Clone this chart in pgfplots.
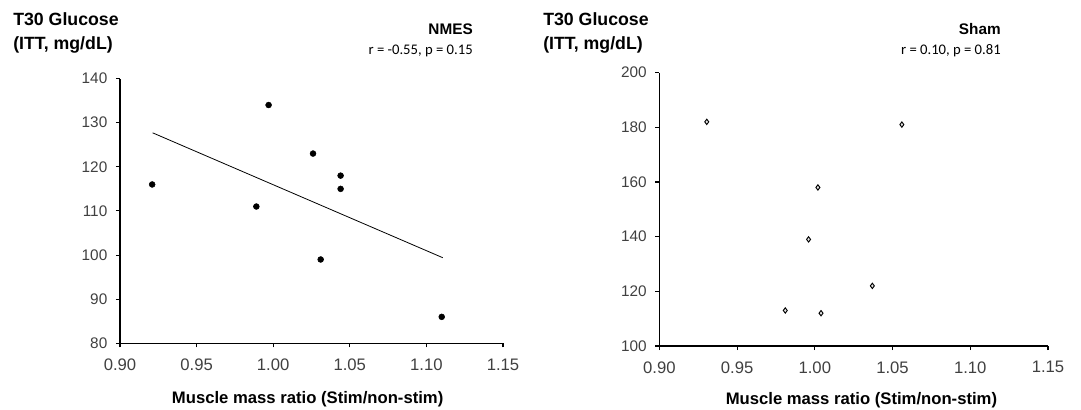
\documentclass[border=0pt]{standalone}
\usepackage{fontspec}
\setmainfont{Liberation Sans}
\newfontfamily\calib{Carlito}
\usepackage{pgfplots}
\pgfplotsset{compat=1.18}

\definecolor{ticktxt}{RGB}{64,64,64}

\pgfplotsset{
  glu/.style={
    scale only axis,
    anchor=origin,
    axis lines*=left,
    axis line style={black, line width=0.8pt},
    tick align=outside,
    tick pos=left,
    major tick length=3pt,
    every tick/.style={black, line width=0.8pt},
    xmin=0.9, xmax=1.15,
    xtick={0.9,0.95,...,1.15},
    /pgf/number format/assume math mode=true,
    xticklabel style={/pgf/number format/fixed, /pgf/number format/fixed zerofill,
      /pgf/number format/precision=2,
      font=\fontsize{12.5}{14}\selectfont, text=ticktxt, yshift=-5pt},
    yticklabel style={font=\fontsize{11.5}{13}\selectfont, text=ticktxt, xshift=-3pt},
    xlabel={\textbf{Muscle mass ratio (Stim/non-stim)}},
    xlabel style={font=\fontsize{12.5}{14}\selectfont, anchor=center},
    clip=false,
  }
}

\begin{document}
\begin{tikzpicture}[x=0.75pt, y=-0.75pt]
\path[use as bounding box] (0,0) rectangle (1081,410);

% NMES panel
\begin{axis}[glu,
  at={(90pt,-257.5pt)},
  width=287.25pt, height=198.6pt,
  ymin=80, ymax=140, ytick={80,90,...,140},
  xlabel style={at={(rel axis cs:0.49,0)}, yshift=-42pt}]
  \addplot[black, line width=0.6pt] coordinates {(0.9213,127.7) (1.1107,99.4)};
  \addplot[only marks, mark=*, mark size=2.2pt, black] coordinates {
    (0.921,116) (0.997,134) (0.989,111) (1.026,123)
    (1.044,118) (1.044,115) (1.031,99) (1.110,86)
  };
\end{axis}

% Sham panel
\begin{axis}[glu,
  at={(494.5pt,-259.5pt)},
  width=291.5pt, height=205pt,
  ymin=100, ymax=200, ytick={100,120,...,200},
  xlabel style={at={(rel axis cs:0.52,0)}, yshift=-40.5pt}]
  \addplot[only marks, mark=diamond*, mark size=2pt,
    mark options={draw=black, fill=gray!20, line width=0.7pt}] coordinates {
    (0.9305,182) (1.056,181) (1.002,158) (0.996,139)
    (1.037,122) (0.981,113) (1.004,112)
  };
\end{axis}

% titles
\node[anchor=north west, align=left, inner sep=0pt, font=\bfseries\fontsize{13.3}{18}\selectfont]
  at (13,12) {T30 Glucose\\(ITT, mg/dL)};
\node[anchor=north west, align=left, inner sep=0pt, font=\bfseries\fontsize{13.3}{18}\selectfont]
  at (543,12) {T30 Glucose\\(ITT, mg/dL)};

\node[anchor=east, inner sep=0pt, font=\bfseries\fontsize{11.5}{13}\selectfont] at (473,29) {NMES};
\node[anchor=east, inner sep=0pt, font=\calib\fontsize{11}{13}\selectfont] at (473,51) {r = -0.55, p = 0.15};
\node[anchor=east, inner sep=0pt, font=\bfseries\fontsize{11.5}{13}\selectfont] at (1001,29) {Sham};
\node[anchor=east, inner sep=0pt, font=\calib\fontsize{11}{13}\selectfont] at (1001,51) {r = 0.10, p = 0.81};
\end{tikzpicture}
\end{document}
